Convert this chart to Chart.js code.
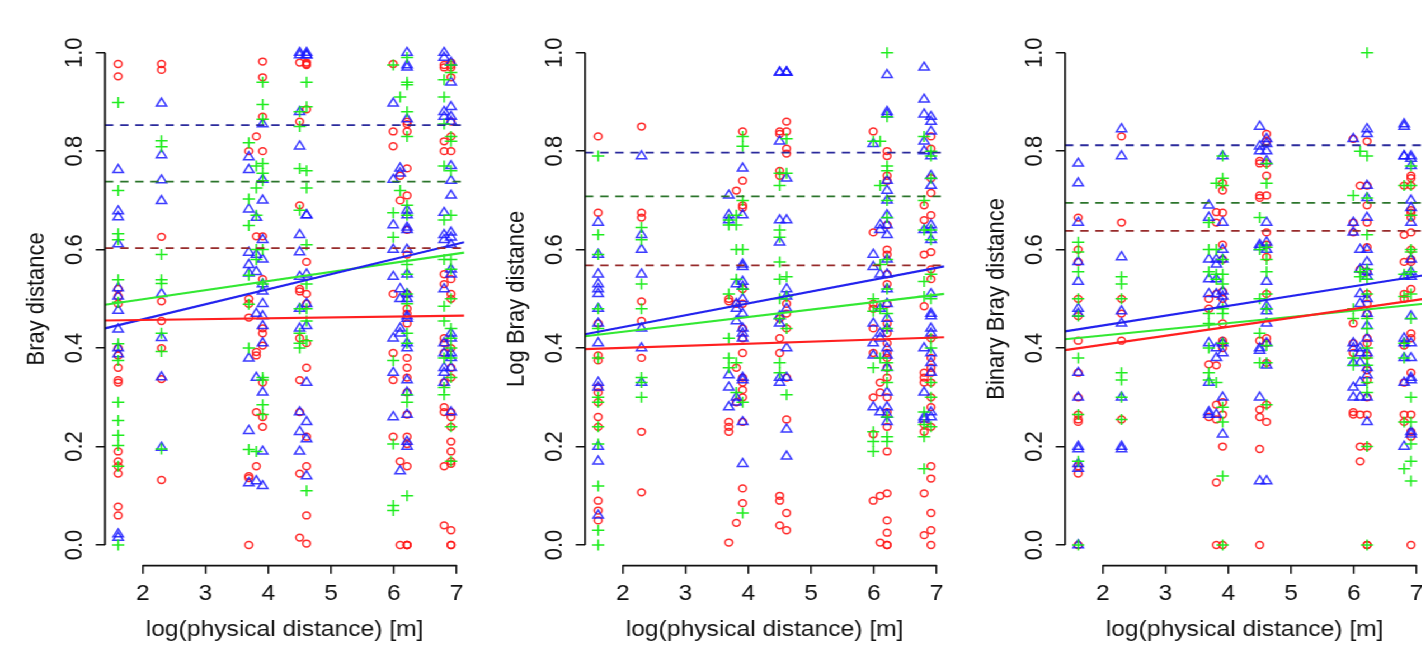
<!DOCTYPE html>
<html lang="en">
<head>
<meta charset="UTF-8">
<title>Bray distance vs log(physical distance)</title>
<style>
    html, body { margin: 0; padding: 0; background: #fff; overflow: hidden; width: 1422px; height: 650px; }
    /* the reference is an R plot stretched sideways, so draw narrow and stretch */
    #wrap { position: relative; width: 1287px; height: 650px; transform: scaleX(1.1189); transform-origin: 0 0; }
    .panel { position: absolute; top: 0; width: 429px; height: 650px; }
</style>
</head>
<body>
<div id="wrap">
    <div class="panel" style="left:0px"><canvas id="c1" width="429" height="650"></canvas></div>
    <div class="panel" style="left:429px"><canvas id="c2" width="429" height="650"></canvas></div>
    <div class="panel" style="left:858px"><canvas id="c3" width="429" height="650"></canvas></div>
</div>

<script src="https://cdn.jsdelivr.net/npm/chart.js"></script>
<script>
// x positions of the site pairs (log of physical distance)
const xCols = [1.61, 2.30, 3.69, 3.81, 3.91, 4.50, 4.61, 5.99, 6.10, 6.21, 6.80, 6.91];
const xTicks = [2, 3, 4, 5, 6, 7];
const yTicks = [0, 0.2, 0.4, 0.6, 0.8, 1.0];
const xRange = [1.40, 7.12];
const yRange = [-0.04, 1.04];
const xTitle = 'log(physical distance) [m]';

// ---- panel 1: Bray distance (one list per x column) ----
const brayRed = [
    [.977, .952, .52, .505, .49, .40, .385, .36, .335, .33, .19, .17, .16, .145, .078, .06],
    [.977, .965, .626, .495, .455, .40, .337, .132],
    [.80, .50, .49, .462, .14, .136, 0],
    [.83, .627, .392, .385, .27, .16],
    [.982, .95, .87, .80, .627, .54, .44, .43, .405, .33, .26, .24],
    [.98, .86, .69, .52, .515, .42, .335, .27, .145, .015],
    [.98, .977, .975, .885, .575, .51, .49, .41, .36, .22, .16, .06, .003],
    [.977, .84, .81, .51, .39, .335, .22],
    [.75, .70, .17, 0],
    [.86, .855, .84, .765, .71, .64, .59, .51, .48, .47, .45, .38, .36, .34, .31, .265, .22, .205, .16, 0, 0, 0],
    [.975, .97, .82, .80, .55, .53, .42, .41, .39, .33, .28, .27, .16, .04],
    [.98, .975, .97, .95, .86, .83, .80, .54, .51, .50, .40, .36, .34, .27, .26, .24, .21, .19, .17, .165, .03, 0, 0]
];
const brayBlue = [
    [.762, .678, .666, .611, .522, .505, .476, .438, .40, .388, .022, .015],
    [.897, .792, .741, .699, .51, .421, .341, .198],
    [.788, .762, .682, .594, .569, .552, .379, .232, .126],
    [.665, .59, .555, .47, .34, .13],
    [.855, .742, .70, .62, .58, .53, .515, .49, .465, .445, .41, .31, .19, .12],
    [1.0, .995, .88, .81, .63, .595, .545, .48, .44, .27, .23, .19],
    [1.0, .995, .995, .67, .67, .55, .49, .445, .33, .25, .215, .14],
    [.897, .742, .65, .60, .545, .42, .35, .26],
    [.765, .755, .52, .50, .44, .43, .15],
    [1.0, .975, .97, .865, .68, .67, .645, .64, .60, .55, .51, .50, .465, .46, .41, .40, .335, .31, .265, .21, .20],
    [1.0, .99, .88, .87, .675, .63, .62, .52, .41, .39, .36, .35, .33],
    [.98, .94, .89, .87, .86, .77, .74, .71, .635, .625, .61, .56, .55, .43, .42, .39, .38, .36, .27]
];
const brayGreen = [
    [.899, .72, .632, .62, .539, .493, .409, .375, .29, .253, .223, .202, .16, 0],
    [.821, .809, .59, .539, .531, .43, .393, .195],
    [.817, .703, .649, .548, .489, .40, .194],
    [.77, .725, .67, .60, .58, .19],
    [.94, .895, .865, .775, .755, .74, .60, .53, .34, .335, .285, .265],
    [.88, .85, .765, .68, .48, .43, .41, .40],
    [.94, .89, .76, .725, .61, .53, .48, .455, .415, .11],
    [.975, .675, .625, .375, .205, .08, .07],
    [.91, .72],
    [.99, .94, .935, .88, .83, .69, .67, .57, .55, .51, .49, .43, .41, .305, .29, .10],
    [.945, .91, .855, .77, .66, .58, .485, .455, .38, .32, .305],
    [.975, .96, .83, .82, .76, .67, .58, .56, .50, .44, .42, .40, .38, .34, .24, .17]
];
// fitted lines: value at left and right edge of the plot
const brayFitRed = [0.456, 0.466];
const brayFitBlue = [0.440, 0.615];
const brayFitGreen = [0.488, 0.594];
// dashed reference levels: blue, green, red
const brayMeans = [0.853, 0.738, 0.603];

// ---- panel 2: Log Bray distance ----
const logRed = [
    [.83, .675, .45, .385, .375, .32, .31, .29, .26, .24, .09, .07, .05],
    [.85, .675, .665, .495, .455, .38, .23, .107],
    [.50, .495, .25, .24, .23, .005],
    [.72, .49, .36, .29, .045],
    [.84, .74, .69, .685, .52, .49, .44, .42, .39, .34, .33, .315, .30, .25, .115, .085],
    [.84, .835, .76, .75, .46, .42, .39, .10, .09, .04],
    [.86, .84, .805, .795, .49, .47, .44, .34, .255, .065, .03],
    [.84, .635, .49, .48, .44, .39, .30, .225, .09],
    [.33, .31, .10, .005],
    [.80, .79, .75, .74, .65, .60, .59, .55, .53, .49, .45, .43, .41, .39, .38, .36, .34, .30, .27, .24, .19, .105, .05, .025, 0, 0],
    [.69, .66, .59, .485, .35, .34, .33, .245, .23, .105, .02],
    [.83, .805, .745, .715, .67, .595, .56, .54, .42, .38, .36, .35, .33, .30, .28, .24, .16, .135, .065, .03, 0]
];
const logBlue = [
    [.655, .59, .55, .53, .52, .51, .48, .45, .41, .33, .32, .20, .17, .06],
    [.79, .63, .60, .55, .44, .40, .33],
    [.71, .67, .66, .345, .32, .28],
    [.53, .49, .48, .455, .30, .29],
    [.765, .67, .57, .565, .535, .525, .50, .47, .44, .43, .42, .34, .335, .25, .165],
    [.96, .96, .82, .66, .615, .465, .45, .34, .33],
    [.96, .96, .96, .745, .66, .52, .505, .48, .40, .34, .235, .18],
    [.815, .59, .565, .45, .41, .385, .28],
    [.65, .64, .55, .48, .43, .42, .27],
    [.955, .88, .875, .74, .72, .70, .67, .65, .63, .58, .55, .52, .49, .46, .44, .40, .385, .36, .31, .28, .265, .25],
    [.97, .905, .875, .82, .80, .64, .40, .31, .26, .255],
    [.87, .86, .84, .79, .75, .73, .65, .64, .62, .51, .47, .465, .44, .43, .39, .37, .35, .27, .26]
];
const logGreen = [
    [.79, .63, .59, .48, .44, .38, .30, .29, .24, .205, .12, .03, 0],
    [.645, .62, .53, .48, .34, .33, .30],
    [.66, .65, .51, .42, .38, .36],
    [.67, .65, .60, .54, .37, .31],
    [.83, .81, .70, .60, .52, .29, .065],
    [.755, .73, .64, .625, .575, .54, .50, .46, .37, .35],
    [.825, .755, .545, .505, .44, .305],
    [.82, .50, .475, .36, .23, .21, .19],
    [.82, .73, .57, .48, .38],
    [1.0, .87, .77, .76, .70, .665, .58, .52, .47, .44, .37, .355, .33, .26, .22, .21],
    [.83, .70, .64, .535, .505, .27, .245, .22, .155],
    [.80, .79, .745, .64, .62, .55, .50, .42, .40, .33, .30, .24]
];
const logFitRed = [0.398, 0.422];
const logFitBlue = [0.428, 0.566];
const logFitGreen = [0.424, 0.510];
const logMeans = [0.797, 0.708, 0.568];

// ---- panel 3: Binary Bray distance ----
const binRed = [
    [.665, .60, .575, .50, .465, .415, .35, .30, .265, .255, .25, .16, .145, 0],
    [.83, .655, .50, .47, .415, .255],
    [.50, .48, .367, .26],
    [.676, .655, .51, .365, .285, .255, .127, 0],
    [.735, .72, .675, .61, .58, .515, .50, .45, .415, .41, .40, .29, .265, .20, 0],
    [.78, .775, .71, .705, .415, .275, .26, .195, 0],
    [.835, .82, .775, .75, .71, .635, .61, .585, .51, .42, .41, .37, .285, .25],
    [.825, .655, .635, .45, .41, .39, .27, .265],
    [.73, .56, .265, .20, .17],
    [.82, .73, .69, .655, .605, .555, .51, .49, .47, .42, .41, .385, .355, .335, .30, .265, .20, 0, 0],
    [.73, .63, .575, .51, .50, .405, .33, .265, .25],
    [.75, .745, .73, .68, .675, .665, .635, .60, .58, .575, .52, .43, .42, .35, .265, .23, .22, 0]
];
const binBlue = [
    [.775, .735, .655, .575, .535, .48, .47, .35, .30, .20, .195, .165, .155, 0],
    [.845, .79, .585, .475, .45, .30, .20, .195],
    [.69, .665, .58, .54, .51, .41, .33, .27, .265],
    [.58, .57, .54, .51, .40, .38, .265],
    [.79, .655, .60, .58, .515, .505, .49, .41, .39, .30, .225],
    [.85, .81, .80, .61, .605, .40, .395, .30, .13],
    [.825, .815, .80, .78, .655, .615, .60, .535, .485, .475, .45, .41, .365, .13],
    [.825, .655, .635, .41, .40, .37, .32, .30],
    [.60, .56, .51, .49, .40, .39, .37, .33, .30],
    [.845, .835, .73, .705, .665, .60, .575, .555, .545, .50, .47, .445, .42, .39, .36, .345, .30, .25],
    [.855, .85, .79, .79, .545, .42, .41, .38, .33, .20],
    [.79, .785, .77, .70, .685, .655, .58, .555, .545, .465, .41, .38, .34, .335, .23, .225]
];
const binGreen = [
    [.615, .595, .555, .50, .465, .38, .265, .17, 0],
    [.545, .53, .50, .35, .335, .30, .255],
    [.655, .60, .555, .47, .45, .40, .35, .335],
    [.735, .60, .55, .54, .33],
    [.79, .745, .73, .58, .55, .53, .48, .47, .41, .28, .25, .14, 0],
    [.665, .60, .50, .43, .37],
    [.775, .735, .605, .58, .555, .51, .48, .405, .37, .285],
    [.71, .48, .46, .38, .365],
    [.80, .555, .545],
    [1.0, .79, .705, .63, .56, .54, .51, .46, .44, .40, .38, .365, .33, .31, .20, 0],
    [.73, .55, .505, .41, .38, .25, .155],
    [.77, .73, .67, .60, .595, .555, .51, .46, .30, .25, .205, .17, .13]
];
const binFitRed = [0.396, 0.500];
const binFitBlue = [0.434, 0.548];
const binFitGreen = [0.418, 0.490];
const binMeans = [0.812, 0.695, 0.638];
</script>

<script>
    const fontFamily = "'Liberation Sans', Arial, Helvetica, sans-serif";
    const ink = '#111111';

    function toPoints(cols) {
        const pts = [];
        cols.forEach((ys, i) => ys.forEach(y => pts.push({ x: xCols[i], y: y })));
        return pts;
    }

    function pointSet(cols, style, radius, color, order) {
        return {
            type: 'scatter',
            data: toPoints(cols),
            pointStyle: style,
            radius: radius,
            hoverRadius: radius,
            borderWidth: 1.5,
            borderColor: color,
            backgroundColor: 'rgba(0,0,0,0)',
            order: order
        };
    }

    function lineSet(a, b, color, dashed) {
        return {
            type: 'line',
            data: [{ x: xRange[0], y: a }, { x: xRange[1], y: b }],
            borderColor: color,
            borderWidth: dashed ? 1.8 : 2.2,
            borderDash: dashed ? [7.5, 6] : [],
            pointRadius: 0,
            fill: false,
            order: 1
        };
    }

    // R draws its axis lines only from the first to the last tick
    const rAxes = {
        id: 'rAxes',
        afterDraw(chart) {
            const { ctx, chartArea, scales } = chart;
            ctx.save();
            ctx.strokeStyle = ink;
            ctx.lineWidth = 1.7;
            ctx.beginPath();
            ctx.moveTo(chartArea.left, scales.y.getPixelForValue(yTicks[0]));
            ctx.lineTo(chartArea.left, scales.y.getPixelForValue(yTicks[yTicks.length - 1]));
            ctx.moveTo(scales.x.getPixelForValue(xTicks[0]), chartArea.bottom + 1);
            ctx.lineTo(scales.x.getPixelForValue(xTicks[xTicks.length - 1]), chartArea.bottom + 1);
            ctx.stroke();
            ctx.restore();
        }
    };

    function buildPanel(id, yTitle, red, blue, green, fitRed, fitBlue, fitGreen, means) {
        new Chart(document.getElementById(id), {
            type: 'scatter',
            data: {
                datasets: [
                    pointSet(red, 'circle', 3.4, 'rgba(255,20,20,0.9)', 4),
                    pointSet(blue, 'triangle', 5.3, 'rgba(25,25,255,0.85)', 3),
                    pointSet(green, 'cross', 5.5, 'rgba(20,235,20,0.95)', 2),
                    lineSet(means[0], means[0], '#2a2a9c', true),
                    lineSet(means[1], means[1], '#2b742b', true),
                    lineSet(means[2], means[2], '#962a2a', true),
                    lineSet(fitRed[0], fitRed[1], '#ff2020', false),
                    lineSet(fitBlue[0], fitBlue[1], '#2323ee', false),
                    lineSet(fitGreen[0], fitGreen[1], '#33e833', false)
                ]
            },
            options: {
                responsive: false,
                animation: false,
                events: [],
                layout: { padding: { left: 0, top: 33, right: 14.13, bottom: 0 } },
                plugins: { legend: { display: false }, tooltip: { enabled: false } },
                scales: {
                    x: {
                        type: 'linear',
                        min: xRange[0],
                        max: xRange[1],
                        afterBuildTicks: (scale) => { scale.ticks = xTicks.map(v => ({ value: v })); },
                        afterFit: (scale) => { scale.height = 85.3; },
                        border: { display: false },
                        grid: { drawOnChartArea: false, drawTicks: true, tickLength: 9, color: ink, lineWidth: 1.5 },
                        ticks: {
                            color: ink, padding: 7, autoSkip: false, maxRotation: 0,
                            font: { family: fontFamily, size: 22 },
                            callback: (v) => String(v)
                        },
                        title: {
                            display: true, text: xTitle, color: ink,
                            font: { family: fontFamily, size: 22 },
                            padding: { top: 0, bottom: 7 }
                        }
                    },
                    y: {
                        type: 'linear',
                        min: yRange[0],
                        max: yRange[1],
                        afterBuildTicks: (scale) => { scale.ticks = yTicks.map(v => ({ value: v })); },
                        afterFit: (scale) => { scale.width = 93.84; },
                        border: { display: false },
                        grid: { drawOnChartArea: false, drawTicks: true, tickLength: 8.3, color: ink, lineWidth: 1.5 },
                        ticks: {
                            color: ink, padding: 3.5, autoSkip: false,
                            minRotation: 90, maxRotation: 90, crossAlign: 'center',
                            font: { family: fontFamily, size: 22 },
                            callback: (v) => v.toFixed(1)
                        },
                        title: {
                            display: true, text: yTitle, color: ink,
                            font: { family: fontFamily, size: 22 },
                            padding: { top: 20, bottom: 0 }
                        }
                    }
                }
            },
            plugins: [rAxes]
        });
    }

    buildPanel('c1', 'Bray distance', brayRed, brayBlue, brayGreen, brayFitRed, brayFitBlue, brayFitGreen, brayMeans);
    buildPanel('c2', 'Log Bray distance', logRed, logBlue, logGreen, logFitRed, logFitBlue, logFitGreen, logMeans);
    buildPanel('c3', 'Binary Bray distance', binRed, binBlue, binGreen, binFitRed, binFitBlue, binFitGreen, binMeans);
</script>
</body>
</html>
